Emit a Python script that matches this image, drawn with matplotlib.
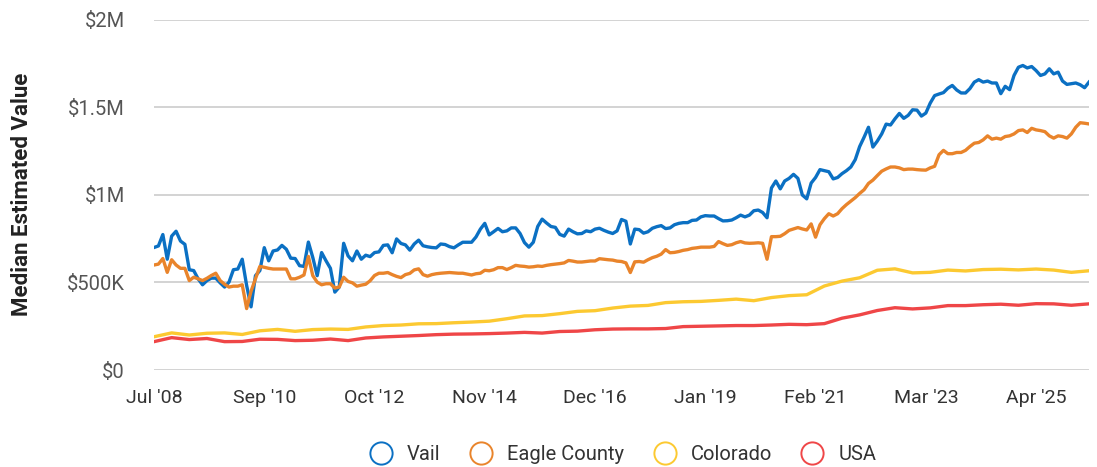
import numpy as np
import matplotlib
matplotlib.use("Agg")
import matplotlib.pyplot as plt
from matplotlib.lines import Line2D

plt.rcParams['font.family'] = ['Roboto', 'DejaVu Sans']

# monthly median estimated value, in $K (Jul '08 onwards)
vail = [700, 709, 774, 633, 765, 793, 737, 718, 573, 568, 521, 487, 511, 525, 525, 498, 474, 502,
        573, 577, 633, 483, 361, 539, 568, 699, 624, 680, 686, 712, 690, 639, 637, 596, 592, 731,
        643, 539, 671, 624, 581, 445, 474, 724, 652, 624, 680, 633, 656, 648, 671, 675, 712,
        715, 670, 749, 723, 715, 685, 720, 742, 710, 704, 700, 698, 720, 717, 705, 698, 715,
        730, 730, 730, 760, 805, 838, 772, 790, 809, 790, 795, 812, 812, 780, 728, 702, 730,
        820, 862, 840, 820, 815, 775, 765, 805, 790, 778, 780, 795, 790, 805, 810, 798, 788,
        780, 795, 860, 850, 720, 805, 802, 782, 790, 810, 819, 825, 808, 812, 830, 838, 842,
        842, 855, 857, 875, 882, 880, 880, 865, 852, 853, 857, 870, 885, 875, 885, 910, 914,
        900, 870, 1040, 1080, 1035, 1080, 1095, 1118, 1095, 1000, 978, 1068, 1100, 1145, 1139,
        1133, 1092, 1100, 1122, 1139, 1160, 1202, 1277, 1330, 1387, 1274, 1308, 1349, 1405,
        1400, 1435, 1466, 1438, 1455, 1487, 1485, 1451, 1468, 1525, 1568, 1577, 1585, 1610,
        1626, 1600, 1583, 1583, 1608, 1645, 1659, 1645, 1651, 1640, 1640, 1579, 1621, 1602,
        1683, 1730, 1740, 1726, 1734, 1711, 1683, 1692, 1721, 1692, 1702, 1651, 1632, 1636,
        1640, 1630, 1613, 1645]

eagle = [600, 605, 637, 558, 630, 600, 581, 581, 511, 530, 521, 511, 524, 540, 553, 511, 490, 474,
         479, 479, 487, 351, 450, 521, 592, 587, 581, 577, 577, 577, 577, 521, 521, 530, 543, 649,
         539, 502, 487, 493, 493, 468, 474, 530, 506, 498, 479, 485, 490, 510, 540, 553, 553,
         557, 545, 535, 528, 545, 552, 572, 578, 545, 536, 545, 550, 553, 555, 557, 555, 553,
         553, 548, 543, 550, 553, 570, 567, 573, 585, 585, 574, 585, 598, 594, 592, 588, 590,
         594, 592, 598, 602, 605, 608, 612, 626, 622, 617, 617, 620, 623, 623, 636, 633, 630,
         628, 622, 620, 612, 557, 618, 620, 616, 630, 642, 650, 662, 688, 670, 672, 677, 684,
         688, 695, 698, 702, 702, 702, 706, 734, 722, 712, 716, 727, 734, 726, 724, 725, 727,
         724, 633, 762, 762, 764, 779, 798, 806, 814, 806, 800, 835, 759, 830, 865, 893, 880,
         893, 922, 945, 965, 985, 1009, 1030, 1066, 1085, 1111, 1136, 1149, 1160, 1160, 1155,
         1145, 1148, 1148, 1145, 1143, 1142, 1155, 1164, 1230, 1255, 1236, 1236, 1243, 1243,
         1255, 1277, 1296, 1300, 1315, 1338, 1319, 1325, 1319, 1334, 1338, 1349, 1368, 1372,
         1357, 1381, 1372, 1368, 1362, 1338, 1325, 1338, 1334, 1325, 1349, 1387, 1413, 1410,
         1406]

# every 4th month
colorado = [190, 212, 200, 210, 212, 203, 224, 232, 221, 231, 234, 232, 246, 254, 257, 264, 265,
            270, 274, 279, 293, 309, 311, 322, 335, 339, 354, 365, 369, 385, 390, 392, 398, 405,
            396, 414, 425, 430, 480, 508, 527, 570, 578, 555, 558, 571, 566, 574, 576, 572, 577,
            571, 558, 567]
usa = [162, 185, 174, 180, 162, 163, 176, 175, 168, 170, 177, 168, 183, 189, 193, 197, 202, 205,
       206, 208, 211, 215, 211, 220, 222, 230, 234, 235, 235, 237, 248, 250, 252, 254, 254, 257,
       261, 259, 265, 296, 315, 340, 356, 349, 355, 368, 368, 373, 376, 370, 379, 378, 370, 378]

tick_labels = ["Jul '08", "Sep '10", "Oct '12", "Nov '14", "Dec '16", "Jan '19", "Feb '21",
               "Mar '23", "Apr '25"]

colors = ['#0b70c3', '#e9842b', '#fcc931', '#ef4647']
names = ['Vail', 'Eagle County', 'Colorado', 'USA']

fig = plt.figure(figsize=(10.97, 4.67), dpi=100)
ax = fig.add_axes([0.1404, 0.2077, 0.8523, 0.7495])

x_m = np.arange(len(vail))
x_q = np.arange(len(colorado)) * 4
ax.plot(x_m, np.array(vail) * 1000, color=colors[0], lw=2.4, zorder=3)
ax.plot(x_m, np.array(eagle) * 1000, color=colors[1], lw=2.4, zorder=4)
ax.plot(x_q, np.array(colorado) * 1000, color=colors[2], lw=2.4, zorder=5)
ax.plot(x_q, np.array(usa) * 1000, color=colors[3], lw=2.4, zorder=6)

ax.set_xlim(0, len(vail) - 1)
ax.set_ylim(0, 2000000)
ax.set_yticks([0, 500000, 1000000, 1500000, 2000000])
ax.set_yticklabels(['$0', '$500K', '$1M', '$1.5M', '$2M'])
ax.set_xticks(np.arange(len(tick_labels)) * 25)
ax.set_xticklabels(tick_labels)
ax.tick_params(axis='y', length=0, pad=21, labelsize=14.5, labelcolor='#555555')
ax.tick_params(axis='x', length=0, pad=14, labelsize=14, labelcolor='#333333')
ax.grid(axis='y', color='#cccccc', lw=1.2, zorder=0)
for s in ax.spines.values():
    s.set_visible(False)

fig.text(0.02, 0.583, 'Median Estimated Value', rotation=90, ha='center', va='center',
         fontsize=16, fontweight='bold', color='#222222')

handles = [Line2D([], [], ls='none', marker='o', markersize=16, markerfacecolor='none',
                  markeredgecolor=c, markeredgewidth=1.4) for c in colors]
fig.legend(handles, names, loc='center', bbox_to_anchor=(0.564, 0.027), ncol=4, frameon=False,
           fontsize=14.5, handletextpad=0.3, columnspacing=1.0, labelcolor='#333333')

fig.savefig('out.png', dpi=100)
